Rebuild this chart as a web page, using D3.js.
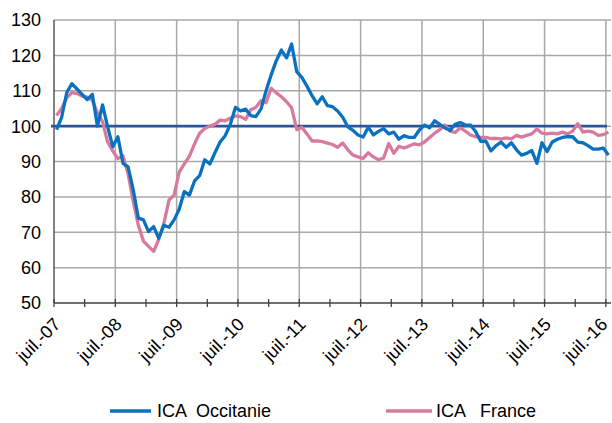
<!DOCTYPE html>
<html><head><meta charset="utf-8">
<script src="https://cdn.jsdelivr.net/npm/d3@7/dist/d3.min.js"></script>
<style>
html,body{margin:0;padding:0;background:#fff;}
text{font-family:"Liberation Sans",Arial,sans-serif;fill:#000;}
</style></head><body>
<svg id="chart" width="612" height="423"></svg>
<script>
const monthNames = ["juil.","août","sept.","oct.","nov.","déc.","janv.","févr.","mars","avr.","mai","juin"];
const categories = [];
for (let i = 0; i < 109; i++) {
  const yr = 7 + Math.floor((i + 6) / 12);
  categories.push(monthNames[i % 12] + "-" + String(yr).padStart(2, "0"));
}
const tickLabels = ["juil.-07","juil.-08","juil.-09","juil.-10","juil.-11","juil.-12","juil.-13","juil.-14","juil.-15","juil.-16"];
const yTicks = [50,60,70,80,90,100,110,120,130];
const seriesNames = ["ICA  Occitanie","ICA   France"];

const occitanie = [
 99,102.5,109.5,112,110.5,109,107.5,109,100,106,
 99.8,94.2,97,89.5,88.5,82,74,73.5,70.2,71.6,
 68.3,72,71.4,73.5,76.5,81.5,80.5,84.5,86,90.5,
 89.3,92.5,95.5,97.3,100.5,105.3,104.3,104.8,103,102.7,
 104.8,110,114.5,118.5,121.5,119.3,123.2,115.4,113.8,111.3,
 108.6,106.3,108.3,105.8,105.5,104.3,102.5,99.8,98.8,97.5,
 96.9,99.7,97.5,98.5,99.3,97.8,98.3,96.3,97.3,96.8,
 96.8,98.9,100.3,99.5,101.5,100.5,99.5,98.8,100.5,101,
 100.3,100.3,98.5,95.7,95.8,93,94.5,95.5,94,95.3,
 93.3,91.8,92.3,93.1,89.5,95.3,92.8,95.5,96.3,96.8,
 97,97,95.5,95.3,94.5,93.5,93.5,93.8,91.8
];
const france = [
 103,105,108,109.5,109.2,108.5,108.2,107.3,103.8,101.3,
 95.5,93,90.8,91.6,86.5,78.8,72,67.5,66,64.6,
 68,72.5,79.1,80.5,87,89.3,91.5,95,98,99.3,
 100,100.5,101.7,101.5,102.2,102.9,102.7,101.9,104.6,105.3,
 107.2,106.6,110.7,109.4,108.3,106.9,105.2,99,99.7,97.8,
 95.8,95.8,95.6,95.2,94.8,94,95.2,93.3,91.8,91.3,
 90.9,92.5,91.3,90.5,91,95.1,92.3,94.3,93.8,94.4,
 95,94.7,95.5,96.8,98,99,100.3,98.6,98.2,99.5,
 98.6,97.5,97,96.8,96.8,96.5,96.5,96.4,96.7,96.4,
 97.4,96.9,97.4,97.8,99.2,98,97.8,98,97.8,98.3,
 97.8,98.6,100.7,98.3,98.6,98.3,97.4,97.6,98.3
];
const refLevel = [100];

const svg = d3.select("#chart");
const L = 54, R = 611, T = 20, B = 303;
const x = d3.scaleBand().domain(categories).range([L, R]).paddingInner(0).paddingOuter(0);
const y = d3.scaleLinear().domain([50, 130]).range([B, T]);
const cx = c => x(c) + x.bandwidth() / 2;

const grid = svg.append("g");
grid.selectAll("line.h").data(yTicks.filter(v => v > 50)).enter().append("line")
  .attr("x1", L).attr("x2", R).attr("y1", d => y(d)).attr("y2", d => y(d))
  .attr("stroke", "#a8a8a8").attr("stroke-width", 1.5);
grid.selectAll("line.v").data(tickLabels.slice(1)).enter().append("line")
  .attr("x1", d => x(d)).attr("x2", d => x(d)).attr("y1", T).attr("y2", B)
  .attr("stroke", "#a8a8a8").attr("stroke-width", 1.5);

svg.append("g").selectAll("text").data(yTicks).enter().append("text")
  .attr("x", 41).attr("y", d => y(d)).attr("dy", "0.36em")
  .attr("text-anchor", "end").attr("font-size", 18).text(d => d);

svg.append("line").attr("x1", L).attr("x2", L).attr("y1", T).attr("y2", B)
  .attr("stroke", "#404040").attr("stroke-width", 1.3);
svg.append("line").attr("x1", L).attr("x2", R).attr("y1", B).attr("y2", B)
  .attr("stroke", "#404040").attr("stroke-width", 1.3);
svg.append("g").selectAll("line").data(categories.filter((c, i) => i % 6 === 0)).enter().append("line")
  .attr("x1", d => x(d)).attr("x2", d => x(d)).attr("y1", B - 4).attr("y2", B + 4)
  .attr("stroke", "#404040").attr("stroke-width", 1.3);
svg.append("g").selectAll("text").data(tickLabels).enter().append("text")
  .attr("transform", d => `translate(${Math.min(x(d) + 3, 604)},${B + 18}) rotate(-45)`)
  .attr("text-anchor", "end").attr("dy", "0.35em").attr("font-size", 18).text(d => d);

svg.selectAll("line.ref").data(refLevel).enter().append("line")
  .attr("x1", L - 3).attr("x2", R - 4).attr("y1", d => y(d)).attr("y2", d => y(d))
  .attr("stroke", "#2b5597").attr("stroke-width", 2.6);

const line = d3.line().x((d, i) => cx(categories[i])).y(d => y(d));
svg.append("path").datum(france).attr("d", line).attr("fill", "none")
  .attr("stroke", "#d87a9d").attr("stroke-width", 3.3).attr("stroke-linejoin", "round");
svg.append("path").datum(occitanie).attr("d", line).attr("fill", "none")
  .attr("stroke", "#0a70c0").attr("stroke-width", 3.3).attr("stroke-linejoin", "round");

const legend = [
  {name: seriesNames[0], color: "#0a70c0", x1: 110, x2: 151, tx: 157},
  {name: seriesNames[1], color: "#d87a9d", x1: 386, x2: 432, tx: 436}
];
const lg = svg.append("g");
legend.forEach(l => {
  lg.append("line").attr("x1", l.x1).attr("x2", l.x2).attr("y1", 411).attr("y2", 411)
    .attr("stroke", l.color).attr("stroke-width", 3.5);
  lg.append("text").attr("x", l.tx).attr("y", 411).attr("dy", "0.36em")
    .attr("font-size", 18).style("white-space", "pre").text(l.name);
});
</script>
</body></html>
